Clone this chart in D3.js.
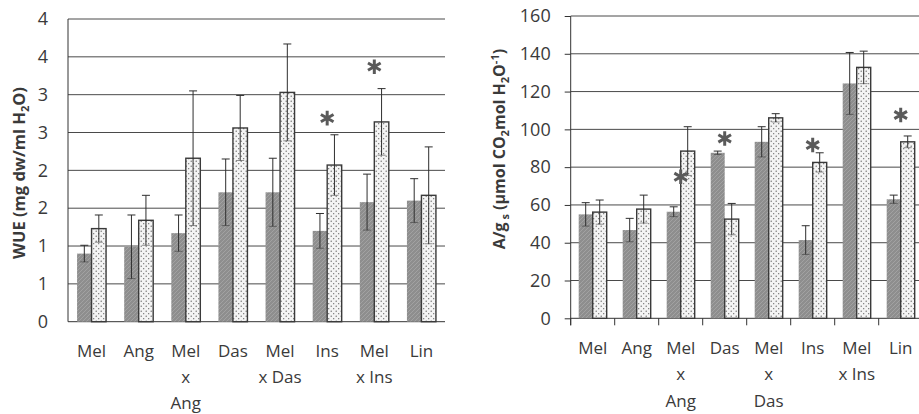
<!DOCTYPE html>
<html>
<head>
<meta charset="utf-8">
<script src="https://cdn.jsdelivr.net/npm/d3@7"></script>
<style>
  body { margin: 0; background: #fff; }
  text { font-family: "Open Sans", sans-serif; fill: #3a3a3a; }
</style>
</head>
<body>
<div id="chart"></div>
<script>
// categories and labels (wrapped as in the figure)
const categories = ["Mel", "Ang", "Mel x Ang", "Das", "Mel x Das", "Ins", "Mel x Ins", "Lin"];
const wueLabels = [["Mel"], ["Ang"], ["Mel", "x", "Ang"], ["Das"], ["Mel", "x Das"], ["Ins"], ["Mel", "x Ins"], ["Lin"]];
const agsLabels = [["Mel"], ["Ang"], ["Mel", "x", "Ang"], ["Das"], ["Mel", "x", "Das"], ["Ins"], ["Mel", "x Ins"], ["Lin"]];

// WUE (left panel)
const wueDark = [0.90, 0.99, 1.17, 1.71, 1.71, 1.20, 1.58, 1.60];
const wueDarkErr = [0.11, 0.42, 0.24, 0.44, 0.45, 0.23, 0.37, 0.29];
const wueLight = [1.23, 1.34, 2.16, 2.56, 3.03, 2.07, 2.64, 1.67];
const wueLightErr = [0.18, 0.33, 0.89, 0.43, 0.64, 0.40, 0.44, 0.64];
const wueTicks = [0, 0.5, 1, 1.5, 2, 2.5, 3, 3.5, 4];
const wueTickLabels = ["0", "1", "1", "2", "2", "3", "3", "4", "4"];
const wueStars = [["Ins", 2.69], ["Mel x Ins", 3.37]];

// A/gs (right panel)
const agsDark = [55.0, 46.7, 56.4, 87.6, 93.4, 41.4, 124.3, 63.0];
const agsDarkErr = [6.2, 6.2, 2.6, 0.9, 8.0, 7.6, 16.4, 2.2];
const agsLight = [56.2, 57.8, 88.5, 52.5, 106.1, 82.5, 132.8, 93.4];
const agsLightErr = [6.4, 7.4, 12.9, 8.3, 2.2, 5.1, 8.6, 3.1];
const agsTicks = [0, 20, 40, 60, 80, 100, 120, 140, 160];
const agsStars = [["Mel x Ang", 74.9], ["Das", 95.2], ["Ins", 91.7], ["Lin", 107.6]];

const svg = d3.select("#chart").append("svg")
  .attr("width", 919)
  .attr("height", 414);

const defs = svg.append("defs");
// hatched grey fill
const hatch = defs.append("pattern")
  .attr("id", "hatch")
  .attr("patternUnits", "userSpaceOnUse")
  .attr("width", 4).attr("height", 4);
hatch.append("rect").attr("width", 4).attr("height", 4).attr("fill", "#8e8e8e");
hatch.append("path").attr("d", "M-1,1 l2,-2 M0,4 l4,-4 M3,5 l2,-2")
  .attr("stroke", "#a2a2a2").attr("stroke-width", 1);
// dotted light fill
const dots = defs.append("pattern")
  .attr("id", "dots")
  .attr("patternUnits", "userSpaceOnUse")
  .attr("width", 5).attr("height", 5);
dots.append("rect").attr("width", 5).attr("height", 5).attr("fill", "#f4f4f4");
dots.append("circle").attr("cx", 1.2).attr("cy", 1.2).attr("r", 0.65).attr("fill", "#555");
dots.append("circle").attr("cx", 3.7).attr("cy", 3.7).attr("r", 0.65).attr("fill", "#666");

function drawPanel(opt) {
  const x = d3.scaleBand().domain(categories).range([opt.x0, opt.x1]).padding(0);
  const y = d3.scaleLinear().domain([opt.ticks[0], opt.ticks[opt.ticks.length - 1]]).range([opt.y0, opt.y1]);
  const g = svg.append("g");
  const barW = opt.barW;

  // gridlines
  g.append("g").selectAll("line").data(opt.ticks.slice(1)).join("line")
    .attr("x1", opt.x0).attr("x2", opt.x1)
    .attr("y1", d => y(d)).attr("y2", d => y(d))
    .attr("stroke", "#4a4a4a").attr("stroke-width", 1);

  // y axis
  const yAxis = g.append("g")
    .attr("transform", `translate(${opt.x0},0)`)
    .call(d3.axisLeft(y).tickValues(opt.ticks)
      .tickSize(opt.yTick).tickPadding(opt.tickPad)
      .tickFormat((d, i) => opt.tickLabels ? opt.tickLabels[i] : d));
  yAxis.select(".domain").attr("stroke", "#333").attr("d", `M0,${opt.y0 + opt.xTick}V${opt.y1}`);
  yAxis.selectAll(".tick line").attr("stroke", "#333");
  yAxis.selectAll(".tick text").style("font-size", "18px").attr("fill", "#3a3a3a");

  // x axis
  const xAxis = g.append("g")
    .attr("transform", `translate(0,${opt.y0})`)
    .call(d3.axisBottom(x).tickSize(0).tickFormat(""));
  xAxis.select(".domain").attr("stroke", "#333").attr("d", `M${opt.x0},0H${opt.x1}`);
  if (opt.xTick > 0) {
    g.append("g").selectAll("line").data(categories).join("line")
      .attr("x1", d => x(d)).attr("x2", d => x(d))
      .attr("y1", opt.y0).attr("y2", opt.y0 + opt.xTick)
      .attr("stroke", "#333");
  }

  // category labels
  const lbl = g.append("g").selectAll("text").data(categories).join("text")
    .attr("x", d => x(d) + x.bandwidth() / 2)
    .attr("y", opt.labelY)
    .attr("text-anchor", "middle")
    .style("font-size", "17px");
  lbl.each(function (d, i) {
    d3.select(this).selectAll("tspan").data(opt.labels[i]).join("tspan")
      .attr("x", x(d) + x.bandwidth() / 2)
      .attr("dy", (t, j) => j === 0 ? 0 : opt.lineH)
      .text(t => t);
  });

  // bars
  const series = [
    { vals: opt.dark, err: opt.darkErr, off: -barW, fill: "url(#hatch)", stroke: "none" },
    { vals: opt.light, err: opt.lightErr, off: 0, fill: "url(#dots)", stroke: "#3a3a3a" }
  ];
  series.forEach(s => {
    const cx = (d, i) => x(categories[i]) + x.bandwidth() / 2 + s.off;
    g.append("g").selectAll("rect").data(s.vals).join("rect")
      .attr("x", cx)
      .attr("y", d => y(d))
      .attr("width", barW)
      .attr("height", d => y(0) - y(d))
      .attr("fill", s.fill)
      .attr("stroke", s.stroke)
      .attr("stroke-width", 1.4);
    const eb = g.append("g").attr("stroke", "#2e2e2e").attr("stroke-width", 1);
    s.vals.forEach((v, i) => {
      const mx = cx(v, i) + barW / 2;
      const e = s.err[i];
      eb.append("line").attr("x1", mx).attr("x2", mx).attr("y1", y(v - e)).attr("y2", y(v + e));
      eb.append("line").attr("x1", mx - 4).attr("x2", mx + 4).attr("y1", y(v + e)).attr("y2", y(v + e));
      eb.append("line").attr("x1", mx - 4).attr("x2", mx + 4).attr("y1", y(v - e)).attr("y2", y(v - e))
        .attr("stroke-opacity", 0.5);
    });
  });

  // significance asterisks
  g.append("g").selectAll("path").data(opt.stars).join("path")
    .attr("transform", d => `translate(${x(d[0]) + x.bandwidth() / 2},${y(d[1])})`)
    .attr("d", d3.symbol(d3.symbolAsterisk, 150))
    .attr("stroke", "#5a5a5a")
    .attr("stroke-width", 3);

  return { x, y };
}

drawPanel({
  x0: 68, x1: 445, y0: 321.7, y1: 19, barW: 14.5,
  ticks: wueTicks, tickLabels: wueTickLabels, yTick: 0, tickPad: 20, xTick: 0,
  labels: wueLabels, labelY: 357, lineH: 26,
  dark: wueDark, darkErr: wueDarkErr, light: wueLight, lightErr: wueLightErr,
  stars: wueStars
});

drawPanel({
  x0: 570.7, x1: 922.7, y0: 318.3, y1: 16, barW: 14,
  ticks: agsTicks, tickLabels: null, yTick: 6, tickPad: 14, xTick: 7,
  labels: agsLabels, labelY: 353.5, lineH: 26.6,
  dark: agsDark, darkErr: agsDarkErr, light: agsLight, lightErr: agsLightErr,
  stars: agsStars
});

// y axis titles
svg.append("text")
  .attr("transform", "translate(25,173) rotate(-90)")
  .attr("text-anchor", "middle")
  .style("font-size", "16.5px").style("font-weight", "bold")
  .html('WUE (mg dw/ml H<tspan dy="4" font-size="11px">2</tspan><tspan dy="-4">O)</tspan>');

svg.append("text")
  .attr("transform", "translate(505,149) rotate(-90)")
  .attr("text-anchor", "middle")
  .style("font-size", "16px").style("font-weight", "bold")
  .html('A/g<tspan dy="4" font-size="11px"> s</tspan><tspan dy="-4"> (μmol CO</tspan><tspan dy="4" font-size="11px">2</tspan><tspan dy="-4">mol H</tspan><tspan dy="4" font-size="11px">2</tspan><tspan dy="-4">O</tspan><tspan dy="-6" font-size="11px">-1</tspan><tspan dy="6">)</tspan>');
</script>
</body>
</html>
